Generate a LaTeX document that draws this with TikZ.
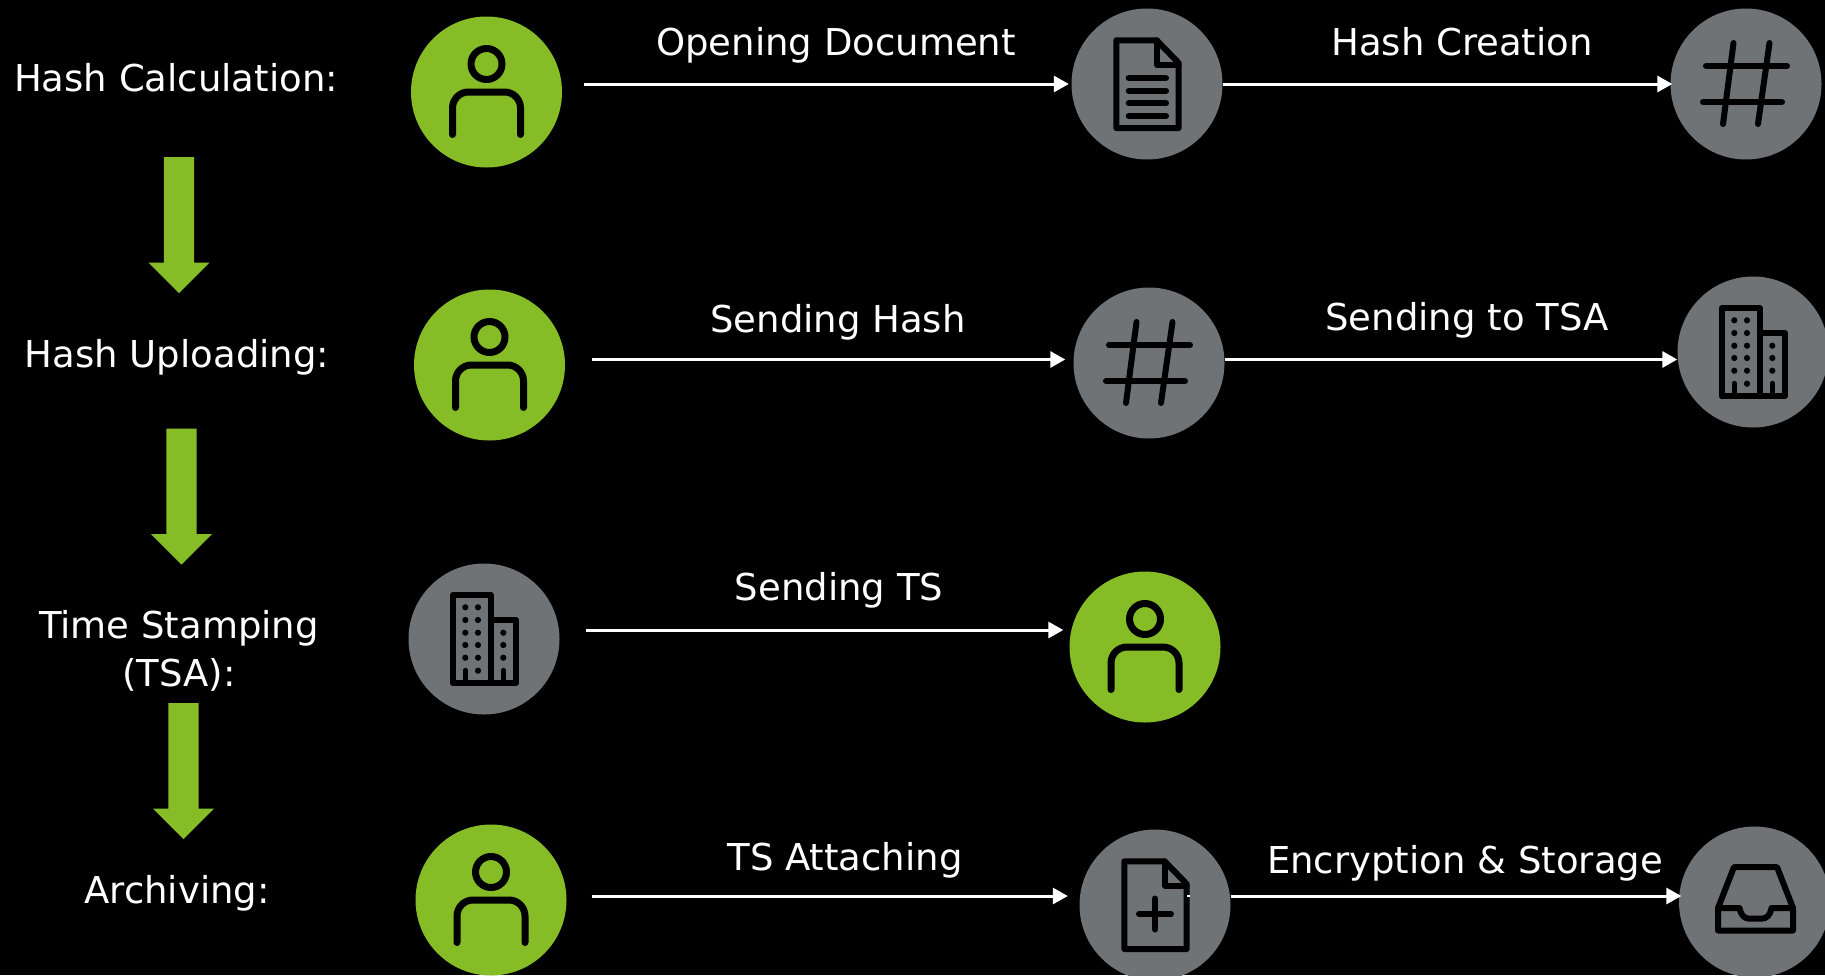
\documentclass[tikz,border=0pt]{standalone}
\usepackage{fontspec}
\setmainfont{DejaVu Sans}
\usetikzlibrary{shapes.arrows,arrows.meta}
\definecolor{leafgreen}{HTML}{86BC25}
\definecolor{slategrey}{HTML}{6F7376}
\tikzset{
  stepcircle/.style = {shape=circle, minimum size=151pt, inner sep=0pt},
  actor/.style      = {stepcircle, fill=leafgreen},
  system/.style     = {stepcircle, fill=slategrey},
  phase/.style      = {font=\fontsize{37}{48}\selectfont, text=white, align=center, anchor=base},
  flowtext/.style   = {font=\fontsize{37}{48}\selectfont, text=white, anchor=base},
  flow/.style       = {draw=white, line width=3pt, -{Triangle[length=15pt,width=16pt]}},
  godown/.style     = {shape=single arrow, rotate=-90, anchor=tail, fill=leafgreen,
                       minimum height=136pt, inner xsep=0pt, inner ysep=15pt,
                       single arrow head extend=15.5pt, single arrow head indent=0pt},
  icon/.style       = {draw=black, line width=6pt, line cap=round, line join=round},
  pics/person/.style   = {code={
    \draw[icon, line width=7pt] (0,-28) circle (15.5);
    \draw[icon, line width=7pt] (-34,42.5) -- (-34,16) arc (180:270:16) -- (18,0) arc (-90:0:16) -- (34,42.5);
  }},
  pics/pagefold/.style = {code={
    \draw[icon] (-30.7,-43.7) -- (9.7,-43.7) -- (31.7,-21) -- (31.7,44) -- (-30.7,44) -- cycle;
    \draw[icon] (10,-43.7) -- (10,-19.3) -- (31.7,-19.3);
  }},
  pics/filedoc/.style  = {code={
    \pic {pagefold};
    \foreach \liney in {-6,6.7,19.3,32}
      \draw[icon] (-18.3,\liney) -- (19,\liney);
  }},
  pics/fileplus/.style = {code={
    \pic {pagefold};
    \draw[icon] (-16,9) -- (16,9);
    \draw[icon] (0,-6.5) -- (0,24.5);
  }},
  pics/hashsign/.style = {code={
    \draw[icon] (-40,-18) -- (41,-18);
    \draw[icon] (-43,18) -- (36,18);
    \draw[icon] (-12.5,-41) -- (-23,40);
    \draw[icon] (23.5,-41) -- (12,40);
  }},
  pics/towers/.style   = {code={
    \draw[icon] (-31,44) -- (-31,-44) -- (6.7,-44) -- (6.7,44);
    \draw[icon] (6.7,-19) -- (32,-19) -- (32,44) -- (-31,44);
    \foreach \winy in {-31.7,-19,-6.3,6,18.7}
      \foreach \winx in {-18.7,-6}
        \fill (\winx,\winy) circle (3.1);
    \fill (-6,31.7) circle (3.1);
    \foreach \winy in {-6.3,6,18.7}
      \fill (19.3,\winy) circle (3.1);
    \draw[icon, line width=5.5pt] (-18.7,44) -- (-18.7,31.5);
    \draw[icon, line width=5.5pt] (19.3,44) -- (19.3,31.5);
  }},
  pics/inboxtray/.style = {code={
    \draw[icon] (-36.5,6) -- (-20.5,-35) -- (22.5,-35) -- (38.5,6);
    \draw[icon] (-36.5,6) -- (-15,6) .. controls (-14,13) and (-10,16.7) .. (-5,16.7) -- (7,16.7)
      .. controls (12,16.7) and (16,13) .. (17,6) -- (38.5,6) -- (38.5,28.5) -- (-36.5,28.5) -- cycle;
  }}
}

\begin{document}
\begin{tikzpicture}[x=1pt, y=-1pt]
  \useasboundingbox[fill=black] (0,0) rectangle (1825,975);

  % phases on the left
  \node [phase] (calcphase)    at (176,91)  {Hash Calculation:};
  \node [phase] (uploadphase)  at (177,367) {Hash Uploading:};
  \node [phase, anchor=center] (stampphase) at (179,651) {Time Stamping\\(TSA):};
  \node [phase] (archivephase) at (177,903) {Archiving:};
  \node [godown] (downa) at (179,157)   {};
  \node [godown] (downb) at (181.5,428.5) {};
  \node [godown] (downc) at (183.5,703) {};

  % first row
  \node [actor]  (usera) at (486.5,92) {};
  \node [system] (docfile) at (1147,84) {};
  \node [system] (hashval) at (1746,84) {};
  \pic at (usera) {person};
  \pic at (docfile) {filedoc};
  \pic at (hashval) {hashsign};
  \draw [flow, shorten <=22pt, shorten >=2.5pt] (usera.east |- docfile.west) -- (docfile.west);
  \draw [flow, shorten >=-2pt] (docfile.east) -- (hashval.west);
  \node [flowtext] (opentext) at (836,55) {Opening Document};
  \node [flowtext] (hashtext) at (1462,55) {Hash Creation};

  % second row
  \coordinate (rowb) at (0,359.5);
  \node [actor]  (userb) at (489.5,365) {};
  \node [system] (hashsent) at (1149,363) {};
  \node [system] (tsaa) at (1753,352) {};
  \pic at (userb) {person};
  \pic at (hashsent) {hashsign};
  \pic at (tsaa) {towers};
  \draw [flow, shorten <=27pt, shorten >=8pt] (userb.east |- rowb) -- (hashsent.west |- rowb);
  \draw [flow] (hashsent.east |- rowb) -- (tsaa.west |- rowb);
  \node [flowtext] (sendhash) at (838,332) {Sending Hash};
  \node [flowtext] (sendtsa) at (1467,330) {Sending to TSA};

  % third row
  \coordinate (rowc) at (0,630);
  \node [system] (tsab) at (484,639) {};
  \node [actor]  (userc) at (1145,647) {};
  \pic at (tsab) {towers};
  \pic at (userc) {person};
  \draw [flow, shorten <=26pt, shorten >=6pt] (tsab.east |- rowc) -- (userc.west |- rowc);
  \node [flowtext] (sendts) at (839,600) {Sending TS};

  % last row
  \coordinate (rowd) at (0,896);
  \node [actor]  (userd) at (491,900) {};
  \node [system] (docplus) at (1155,905) {};
  \node [system] (tray) at (1754.5,902) {};
  \pic at (userd) {person};
  \pic at (docplus) {fileplus};
  \pic at (tray) {inboxtray};
  \fill [white] (docplus.east |- rowd) ++(-43.5,-1.5) rectangle ++(3,2.5);
  \draw [flow, shorten <=25pt, shorten >=11.5pt] (userd.east |- rowd) -- (docplus.west |- rowd);
  \draw [flow, shorten >=-2.5pt] (docplus.east |- rowd) -- (tray.west |- rowd);
  \node [flowtext] (attachts) at (845,870) {TS Attaching};
  \node [flowtext] (storetext) at (1465,873) {Encryption \& Storage};
\end{tikzpicture}
\end{document}
